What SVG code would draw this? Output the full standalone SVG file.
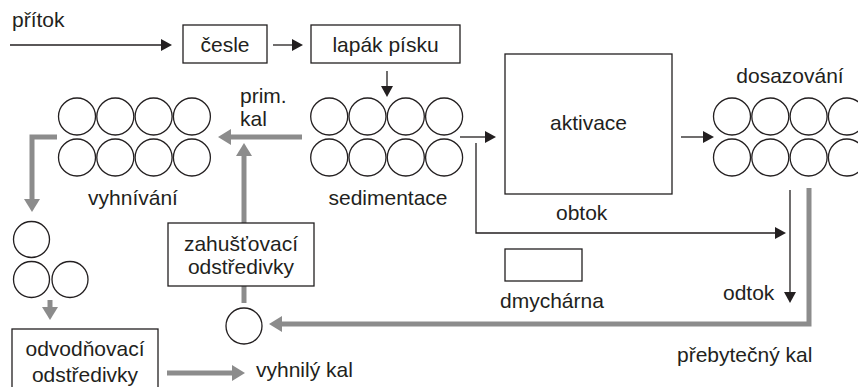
<svg xmlns="http://www.w3.org/2000/svg" width="858" height="387" viewBox="0 0 858 387">
<style>
text{font-family:"Liberation Sans",Arial,sans-serif;font-size:21px;fill:#231f20}
.box{fill:#fff;stroke:#231f20;stroke-width:1.3}
.c{fill:#fff;stroke:#231f20;stroke-width:1.3}
.bl{fill:none;stroke:#231f20;stroke-width:1.3}
.gr{fill:none;stroke:#8c8c8c;stroke-width:5}
.m{text-anchor:middle}
</style>
<defs>
<marker id="ab" markerUnits="userSpaceOnUse" markerWidth="11" markerHeight="12" refX="0" refY="6" orient="auto">
<path d="M0,0 L11,6 L0,12 z" fill="#231f20"/>
</marker>
<marker id="ag" markerUnits="userSpaceOnUse" markerWidth="13" markerHeight="16" refX="0" refY="8" orient="auto">
<path d="M0,0 L13,8 L0,16 z" fill="#8c8c8c"/>
</marker>
</defs>
<rect width="858" height="387" fill="#fff"/>

<g id="connectors">
<path class="bl" d="M10,45 H161" marker-end="url(#ab)"/>
<path class="bl" d="M273,45 H292" marker-end="url(#ab)"/>
<path class="bl" d="M387,71 V86" marker-end="url(#ab)"/>
<path class="bl" d="M460,137 H485" marker-end="url(#ab)"/>
<path class="bl" d="M681,137 H703" marker-end="url(#ab)"/>
<path class="bl" d="M476,143 V233 H775" marker-end="url(#ab)"/>
<path class="bl" d="M790,190 V292" marker-end="url(#ab)"/>
<path class="gr" d="M302,137 H231" marker-end="url(#ag)"/>
<path class="gr" d="M244,223 V156" marker-end="url(#ag)"/>
<path class="gr" d="M244,286 V303"/>
<path class="gr" d="M57,137 H32 V199" marker-end="url(#ag)"/>
<path class="gr" d="M809,188 V324 H282" marker-end="url(#ag)"/>
<path class="gr" d="M50,300 V307" marker-end="url(#ag)"/>
<path class="gr" d="M167,373 H232" marker-end="url(#ag)"/>
</g>

<g id="pritok"><text x="12" y="27">přítok</text></g>

<g id="cesle">
<rect class="box" x="183" y="25" width="84" height="38"/>
<text class="m" x="225" y="52">česle</text>
</g>

<g id="lapak">
<rect class="box" x="311" y="25" width="149" height="38"/>
<text class="m" x="385.5" y="52">lapák písku</text>
</g>

<g id="sedimentace">
<circle class="c" cx="329.2" cy="116.5" r="18.5"/>
<circle class="c" cx="367.5" cy="116.5" r="18.5"/>
<circle class="c" cx="405.8" cy="116.5" r="18.5"/>
<circle class="c" cx="444.1" cy="116.5" r="18.5"/>
<circle class="c" cx="329.2" cy="157.5" r="18.5"/>
<circle class="c" cx="367.5" cy="157.5" r="18.5"/>
<circle class="c" cx="405.8" cy="157.5" r="18.5"/>
<circle class="c" cx="444.1" cy="157.5" r="18.5"/>
<text class="m" x="388" y="205">sedimentace</text>
</g>

<g id="vyhnivani">
<circle class="c" cx="77" cy="116.5" r="18.5"/>
<circle class="c" cx="115.3" cy="116.5" r="18.5"/>
<circle class="c" cx="153.6" cy="116.5" r="18.5"/>
<circle class="c" cx="191.9" cy="116.5" r="18.5"/>
<circle class="c" cx="77" cy="157.5" r="18.5"/>
<circle class="c" cx="115.3" cy="157.5" r="18.5"/>
<circle class="c" cx="153.6" cy="157.5" r="18.5"/>
<circle class="c" cx="191.9" cy="157.5" r="18.5"/>
<text class="m" x="133" y="205">vyhnívání</text>
</g>

<g id="primkal">
<text x="240" y="103">prim.</text>
<text x="240" y="126">kal</text>
</g>

<g id="aktivace">
<rect class="box" x="505" y="54" width="167" height="140"/>
<text class="m" x="588.5" y="130">aktivace</text>
</g>

<g id="dosazovani">
<circle class="c" cx="732" cy="116.5" r="18.5"/>
<circle class="c" cx="770.3" cy="116.5" r="18.5"/>
<circle class="c" cx="808.6" cy="116.5" r="18.5"/>
<circle class="c" cx="846.9" cy="116.5" r="18.5"/>
<circle class="c" cx="732" cy="157.5" r="18.5"/>
<circle class="c" cx="770.3" cy="157.5" r="18.5"/>
<circle class="c" cx="808.6" cy="157.5" r="18.5"/>
<circle class="c" cx="846.9" cy="157.5" r="18.5"/>
<text class="m" x="790" y="83">dosazování</text>
</g>

<g id="obtok"><text x="556" y="220">obtok</text></g>

<g id="dmycharna">
<rect class="box" x="505" y="249" width="77" height="32"/>
<text x="500" y="308">dmychárna</text>
</g>

<g id="odtok"><text x="723" y="300">odtok</text></g>
<g id="prebytecny"><text x="677" y="362">přebytečný kal</text></g>

<g id="zahustovaci">
<rect class="box" x="168" y="223" width="146" height="63"/>
<text class="m" x="241" y="251">zahušťovací</text>
<text class="m" x="241" y="274">odstředivky</text>
</g>

<g id="cerpadlo">
<circle class="c" cx="244" cy="326" r="18"/>
</g>

<g id="nadrze">
<circle class="c" cx="31.5" cy="239.5" r="18"/>
<circle class="c" cx="31.5" cy="279.5" r="18"/>
<circle class="c" cx="70" cy="279.5" r="18"/>
</g>

<g id="odvodnovaci">
<rect class="box" x="12" y="329" width="146" height="64"/>
<text class="m" x="85" y="356">odvodňovací</text>
<text class="m" x="85" y="382">odstředivky</text>
</g>

<g id="vyhnily"><text x="256" y="377">vyhnilý kal</text></g>
</svg>
